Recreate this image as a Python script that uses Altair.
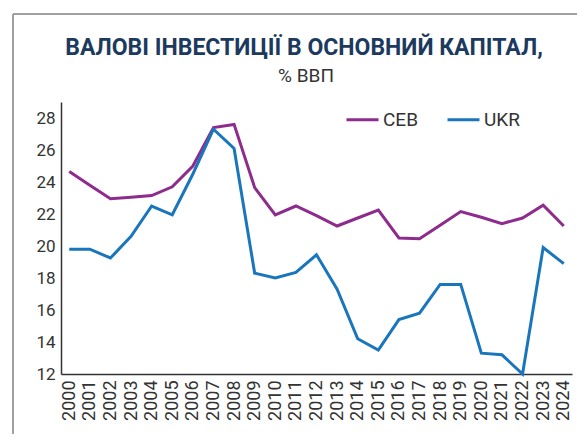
import altair as alt
import pandas as pd

years = [str(y) for y in range(2000, 2025)]
ceb = [24.65, 23.8, 22.95, 23.05, 23.15, 23.7, 25.0, 27.4, 27.6, 23.65, 21.95, 22.5,
       21.9, 21.25, 21.75, 22.25, 20.5, 20.45, 21.3, 22.15, 21.8, 21.4, 21.75, 22.55, 21.25]
ukr = [19.8, 19.8, 19.25, 20.6, 22.5, 21.95, 24.5, 27.3, 26.1, 18.3, 18.0, 18.35,
       19.45, 17.3, 14.2, 13.5, 15.4, 15.8, 17.6, 17.6, 13.3, 13.2, 12.0, 19.9, 18.9]
series = ["CEB", "UKR"]
colors = ["#8e2c8e", "#1a76bc"]
y_ticks = [12, 14, 16, 18, 20, 22, 24, 26, 28]
title_text = ["ВАЛОВІ ІНВЕСТИЦІЇ В ОСНОВНИЙ КАПІТАЛ,"]
subtitle_text = ["% ВВП"]

rows = []
for i, yr in enumerate(years):
    rows.append({"year": yr, "series": "CEB", "value": ceb[i]})
    rows.append({"year": yr, "series": "UKR", "value": ukr[i]})
df = pd.DataFrame(rows)

FONT = "Roboto"

lines = alt.Chart(df).mark_line(strokeWidth=3).encode(
    x=alt.X("year:O", scale=alt.Scale(type="point", padding=0.4),
            axis=alt.Axis(title=None, labelAngle=-90, labelFontSize=18, labelFont=FONT,
                          labelColor="#333", ticks=False, domainColor="#333",
                          domainWidth=1.5, labelPadding=6, labelBaseline="middle",
                          labelAlign="right")),
    y=alt.Y("value:Q", scale=alt.Scale(domain=[12, 29], nice=False, zero=False),
            axis=alt.Axis(title=None, values=y_ticks, grid=False, ticks=False,
                          labelFontSize=17, labelFont=FONT, labelColor="#333",
                          domainColor="#333", domainWidth=1.5, labelPadding=6)),
    color=alt.Color("series:N", scale=alt.Scale(domain=series, range=colors),
                    legend=alt.Legend(title=None, orient="none", legendX=284, legendY=0,
                                      direction="horizontal", symbolType="stroke",
                                      symbolSize=1024, symbolStrokeWidth=3,
                                      labelFontSize=19, labelFont=FONT, labelColor="#333",
                                      labelOffset=3, columnPadding=22)),
)

frame_df = pd.DataFrame({"k": [0]})
frame_top = alt.Chart(frame_df).mark_rule(color="#a0a0a0", strokeWidth=2).encode(
    x=alt.value(-48), x2=alt.value(600), y=alt.value(-88))
frame_left = alt.Chart(frame_df).mark_rule(color="#a0a0a0", strokeWidth=2).encode(
    x=alt.value(-48), y=alt.value(-88), y2=alt.value(400))

title_mark = alt.Chart(pd.DataFrame({"t": title_text})).mark_text(
    font=FONT, fontSize=23, fontWeight="bold", color="#1c3a5e",
    align="center", baseline="middle").encode(
    text="t:N", x=alt.value(243), y=alt.value(-54))
subtitle_mark = alt.Chart(pd.DataFrame({"t": subtitle_text})).mark_text(
    font=FONT, fontSize=19, color="#333", align="center", baseline="middle").encode(
    text="t:N", x=alt.value(245), y=alt.value(-26))

chart = alt.layer(frame_top, frame_left, title_mark, subtitle_mark, lines).properties(
    width=511, height=272,
    autosize=alt.AutoSizeParams(type="none"),
    padding={"left": 53, "top": 94, "right": 5, "bottom": 60},
).configure_view(stroke=None)

chart.save("out.html", embed_options={"renderer": "svg", "actions": False})
